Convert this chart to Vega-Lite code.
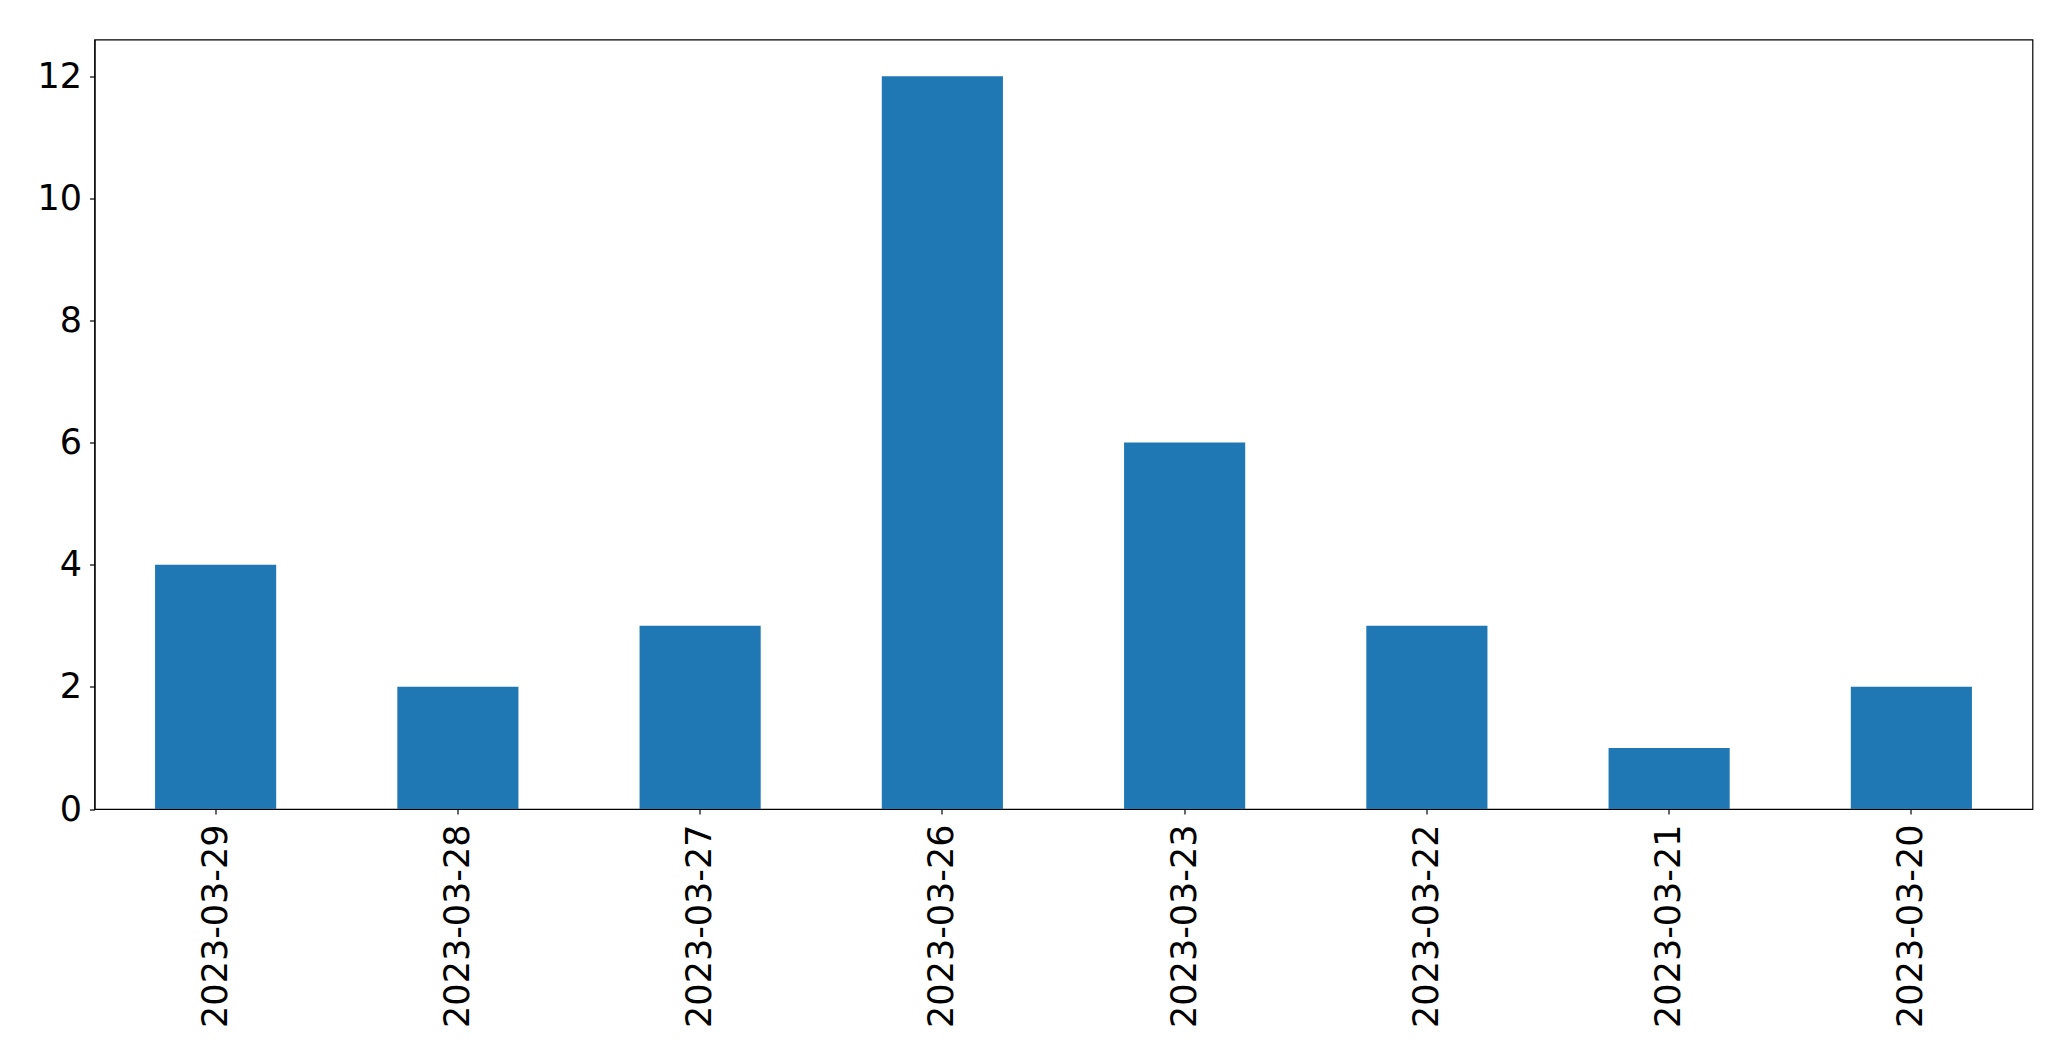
{
  "$schema": "https://vega.github.io/schema/vega-lite/v6.json",
  "autosize": {"type": "none"},
  "padding": {"left": 94.5, "top": 39.5, "right": 38, "bottom": 252},
  "width": 1938,
  "height": 769.5,
  "background": "white",
  "config": {
    "view": {"stroke": "black", "strokeWidth": 1.2},
    "axis": {"grid": false, "domainColor": "black", "tickColor": "black", "labelColor": "black", "labelFont": "DejaVu Sans", "labelFontSize": 35, "labelLimit": 0, "tickSize": 5, "domainWidth": 1.2, "tickWidth": 1.2, "title": null}
  },
  "data": {"values": [
    {"date": "2023-03-29", "count": 4},
    {"date": "2023-03-28", "count": 2},
    {"date": "2023-03-27", "count": 3},
    {"date": "2023-03-26", "count": 12},
    {"date": "2023-03-23", "count": 6},
    {"date": "2023-03-22", "count": 3},
    {"date": "2023-03-21", "count": 1},
    {"date": "2023-03-20", "count": 2}
  ]},
  "mark": {"type": "bar", "color": "#1f77b4"},
  "encoding": {
    "x": {"field": "date", "type": "nominal", "sort": null,
      "scale": {"paddingInner": 0.5, "paddingOuter": 0.25},
      "axis": {"labelAngle": -90, "labelPadding": 10}},
    "y": {"field": "count", "type": "quantitative",
      "scale": {"domain": [0, 12.6], "nice": false},
      "axis": {"values": [0, 2, 4, 6, 8, 10, 12], "labelPadding": 8}}
  }
}
